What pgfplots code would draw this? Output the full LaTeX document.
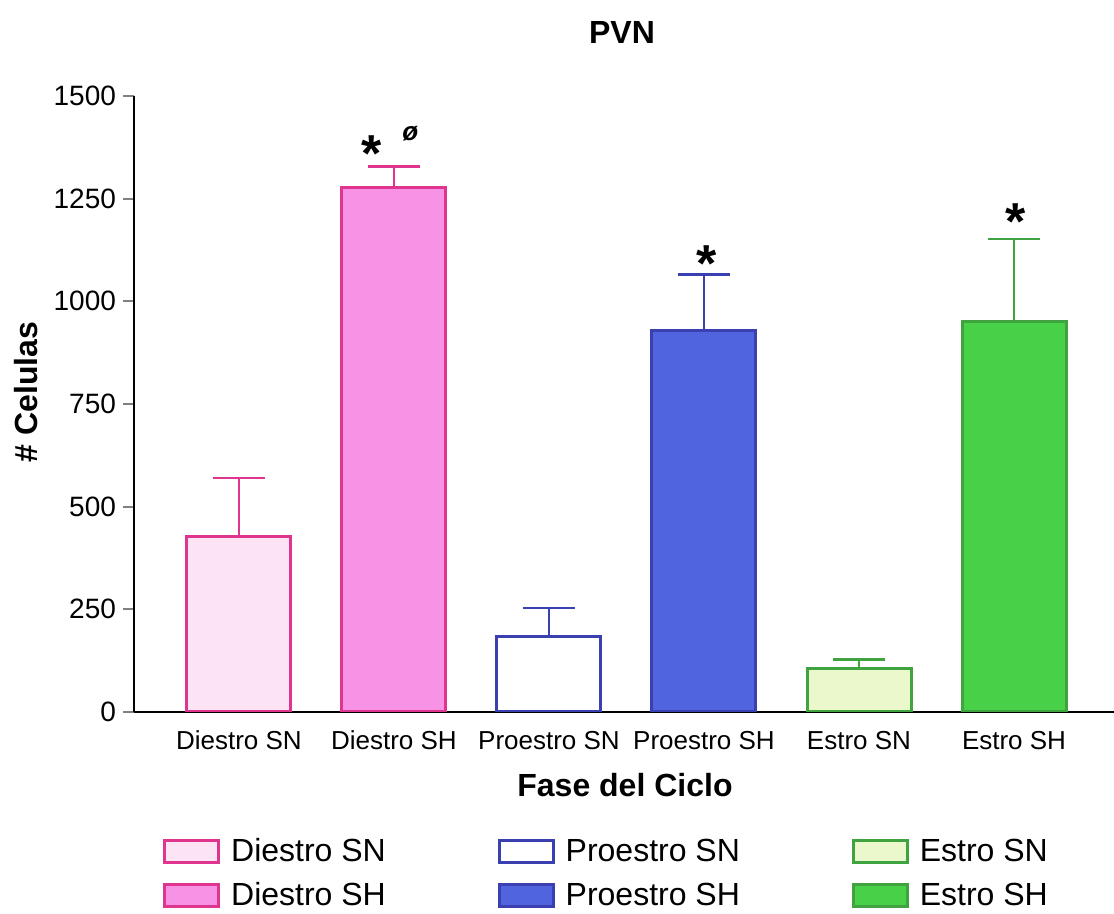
\documentclass[border=0pt]{standalone}
\usepackage{pgfplots}
\pgfplotsset{compat=1.18}
\usepackage{fontspec}
\setmainfont{Liberation Sans}
\definecolor{dsnfill}{HTML}{FDE4F4}
\definecolor{dsnedge}{HTML}{E0358E}
\definecolor{dshfill}{HTML}{F792E4}
\definecolor{psnfill}{HTML}{FFFFFF}
\definecolor{psnedge}{HTML}{3A40B0}
\definecolor{pshfill}{HTML}{5064E0}
\definecolor{esnfill}{HTML}{EAF8CC}
\definecolor{esnedge}{HTML}{3FA43F}
\definecolor{eshfill}{HTML}{48D048}
\begin{document}
\begin{tikzpicture}
\useasboundingbox (-67pt,-101pt) rectangle (490pt,356pt);
\begin{axis}[
  scale only axis,
  width=490pt, height=308pt,
  ybar, bar width=52pt, bar shift=0pt,
  xmin=0.323, xmax=6.645,
  ymin=0, ymax=1500,
  axis lines=left,
  axis line style={line width=1pt, -},
  xtick={1,2,3,4,5,6},
  xticklabels={Diestro SN, Diestro SH, Proestro SN, Proestro SH, Estro SN, Estro SH},
  major x tick style={draw=none},
  xticklabel style={font=\fontsize{13}{15}\selectfont, anchor=base, yshift=-13.5pt},
  ytick={0,250,500,750,1000,1250,1500},
  tick align=outside,
  major tick length=5.5pt,
  ytick style={line width=1pt},
  yticklabel style={font=\fontsize{14}{16}\selectfont},
  /pgf/number format/assume math mode=true,
  /pgf/number format/1000 sep={},
  xlabel={\bfseries Fase del Ciclo},
  xlabel style={font=\fontsize{16}{18}\selectfont, at={(axis description cs:0.501,-0.1185)}, anchor=center},
  ylabel={\bfseries \# Celulas},
  ylabel style={font=\fontsize{16}{18}\selectfont, at={(axis description cs:-0.110,0.5195)}, anchor=center},
  legend columns=3,
  legend style={draw=none, fill=none, at={(14.5pt,-61pt)}, anchor=north west,
    font=\fontsize{16}{19}\selectfont, inner sep=0pt,
    /tikz/every odd column/.append style={column sep=3.5pt},
    /tikz/every even column/.append style={column sep=54pt},
    row sep=5pt},
  legend image code/.code={\draw[#1, line width=1.4pt] (0pt,-5.5pt) rectangle (27pt,5.5pt);},
  every axis plot/.append style={line width=1.5pt},
  error bars/y dir=plus, error bars/y explicit,
]
% row 1 of legend
\addplot[draw=dsnedge, fill=dsnfill, error bars/.cd, error bar style={line width=1.4pt, draw=dsnedge}, error mark options={rotate=90, mark size=13pt, line width=1.4pt, draw=dsnedge}]
  coordinates {(1,428) +- (0,142)};
\addlegendentry{Diestro SN}
\addplot[draw=psnedge, fill=psnfill, error bars/.cd, error bar style={line width=1.4pt, draw=psnedge}, error mark options={rotate=90, mark size=13pt, line width=1.4pt, draw=psnedge}]
  coordinates {(3,183) +- (0,70)};
\addlegendentry{Proestro SN}
\addplot[draw=esnedge, fill=esnfill, error bars/.cd, error bar style={line width=1.4pt, draw=esnedge}, error mark options={rotate=90, mark size=13pt, line width=1.4pt, draw=esnedge}]
  coordinates {(5,107) +- (0,20)};
\addlegendentry{Estro SN}
% row 2 of legend
\addplot[draw=dsnedge, fill=dshfill, error bars/.cd, error bar style={line width=1.4pt, draw=dsnedge}, error mark options={rotate=90, mark size=13pt, line width=1.4pt, draw=dsnedge}]
  coordinates {(2,1278) +- (0,51)};
\addlegendentry{Diestro SH}
\addplot[draw=psnedge, fill=pshfill, error bars/.cd, error bar style={line width=1.4pt, draw=psnedge}, error mark options={rotate=90, mark size=13pt, line width=1.4pt, draw=psnedge}]
  coordinates {(4,930) +- (0,136)};
\addlegendentry{Proestro SH}
\addplot[draw=esnedge, fill=eshfill, error bars/.cd, error bar style={line width=1.4pt, draw=esnedge}, error mark options={rotate=90, mark size=13pt, line width=1.4pt, draw=esnedge}]
  coordinates {(6,950) +- (0,202)};
\addlegendentry{Estro SH}
% significance marks
\node[font=\bfseries\fontsize{26}{26}\selectfont] at (axis cs:1.855,1360) {*};
\node[font=\bfseries\itshape\fontsize{13}{13}\selectfont] at (axis cs:2.106,1408) {ø};
\node[font=\bfseries\fontsize{26}{26}\selectfont] at (axis cs:4.02,1093) {*};
\node[font=\bfseries\fontsize{26}{26}\selectfont] at (axis cs:6.01,1195) {*};
\end{axis}
\node[font=\bfseries\fontsize{16}{18}\selectfont] at (244pt,339.5pt) {PVN};
\end{tikzpicture}
\end{document}
